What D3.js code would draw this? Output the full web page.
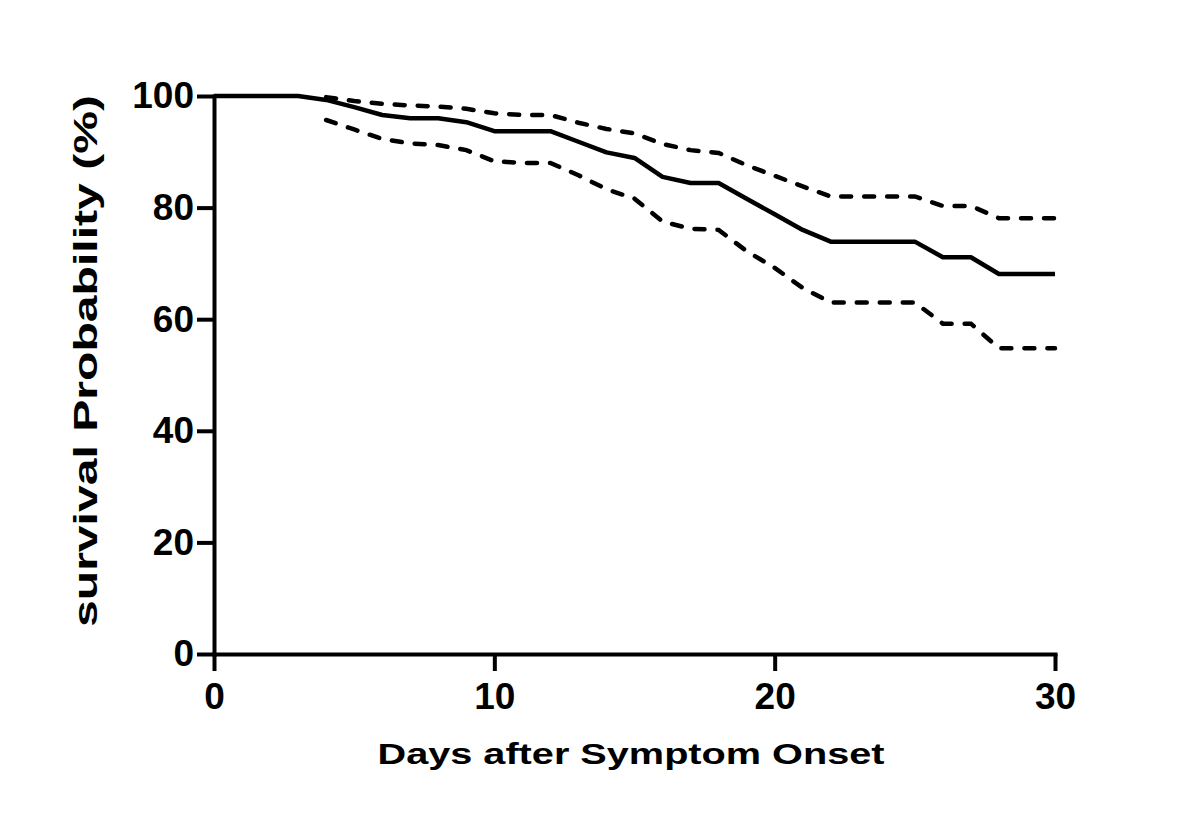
<!DOCTYPE html>
<html>
<head>
<meta charset="utf-8">
<script src="https://cdn.jsdelivr.net/npm/d3@7"></script>
<style>
  body { margin: 0; background: #fff; }
  svg { display: block; }
  text { font-family: "Liberation Sans", Arial, sans-serif; font-weight: bold; fill: #000; }
</style>
</head>
<body>
<div id="chart"></div>
<script>
// Kaplan-Meier survival estimate with 95% CI bands
const days = [0,1,2,3,4,5,6,7,8,9,10,11,12,13,14,15,16,17,18,19,20,21,22,23,24,25,26,27,28,29,30];
const survival = [100,100,100,100,99.3,98,96.6,96,96,95.3,93.7,93.7,93.7,91.8,89.9,88.9,85.5,84.4,84.4,81.6,78.8,76,73.9,73.9,73.9,73.9,71.1,71.1,68.1,68.1,68.1];

const ciDays = [4,5,6,7,8,9,10,11,12,13,14,15,16,17,18,19,20,21,22,23,24,25,26,27,28,29,30];
const upperCI = [99.8,99.1,98.6,98.3,98.1,97.7,96.9,96.6,96.6,95.2,94.1,93.3,91.4,90.3,89.8,87.6,85.7,83.8,82,82,82,82,80.3,80.3,78.1,78.1,78.1];
const lowerCI = [95.7,94,92.3,91.5,91.2,90.3,88.3,88,88,85.8,83.3,81.6,77.5,76.2,76,72.2,69.2,65.6,63,63,63,63,59.2,59.2,54.8,54.8,54.8];

const xTicks = [0, 10, 20, 30];
const yTicks = [0, 20, 40, 60, 80, 100];

const width = 1200, height = 834;

const svg = d3.select("#chart").append("svg")
    .attr("width", width)
    .attr("height", height);

svg.append("rect").attr("width", width).attr("height", height).attr("fill", "#fff");

const x = d3.scaleLinear().domain([0, 30]).range([214, 1055]);
const y = d3.scaleLinear().domain([0, 100]).range([654, 96]);

// axes
const yAxis = svg.append("g")
    .attr("transform", `translate(${x(0)},0)`)
    .call(d3.axisLeft(y).tickValues(yTicks).tickSize(17).tickSizeOuter(0).tickPadding(3));

const xAxis = svg.append("g")
    .attr("transform", `translate(0,${y(0)})`)
    .call(d3.axisBottom(x).tickValues(xTicks).tickSize(17).tickSizeOuter(0).tickPadding(12));

[xAxis, yAxis].forEach(g => {
    g.select(".domain").attr("stroke", "#000").attr("stroke-width", 4).attr("stroke-linecap", "square");
    g.selectAll(".tick line").attr("stroke", "#000").attr("stroke-width", 4);
    g.selectAll(".tick text")
        .attr("font-size", 37)
        .attr("font-family", "'Liberation Sans', Arial, sans-serif")
        .attr("font-weight", "bold")
        .attr("fill", "#000");
});

// curves
const line = d3.line()
    .x(d => x(d[0]))
    .y(d => y(d[1]));

svg.append("path")
    .datum(days.map((d, i) => [d, survival[i]]))
    .attr("d", line)
    .attr("fill", "none")
    .attr("stroke", "#000")
    .attr("stroke-width", 4.5)
    .attr("stroke-linejoin", "round");

[upperCI, lowerCI].forEach(series => {
    svg.append("path")
        .datum(ciDays.map((d, i) => [d, series[i]]))
        .attr("d", line)
        .attr("fill", "none")
        .attr("stroke", "#000")
        .attr("stroke-width", 4.5)
        .attr("stroke-linecap", "round")
        .attr("stroke-dasharray", "10,13");
});

// axis titles
svg.append("text")
    .attr("x", 631)
    .attr("y", 764)
    .attr("text-anchor", "middle")
    .attr("font-size", 29)
    .attr("textLength", 507)
    .attr("lengthAdjust", "spacingAndGlyphs")
    .text("Days after Symptom Onset");

svg.append("text")
    .attr("transform", "translate(97,361) rotate(-90)")
    .attr("text-anchor", "middle")
    .attr("font-size", 33)
    .attr("textLength", 532)
    .attr("lengthAdjust", "spacingAndGlyphs")
    .text("survival Probability (%)");
</script>
</body>
</html>
